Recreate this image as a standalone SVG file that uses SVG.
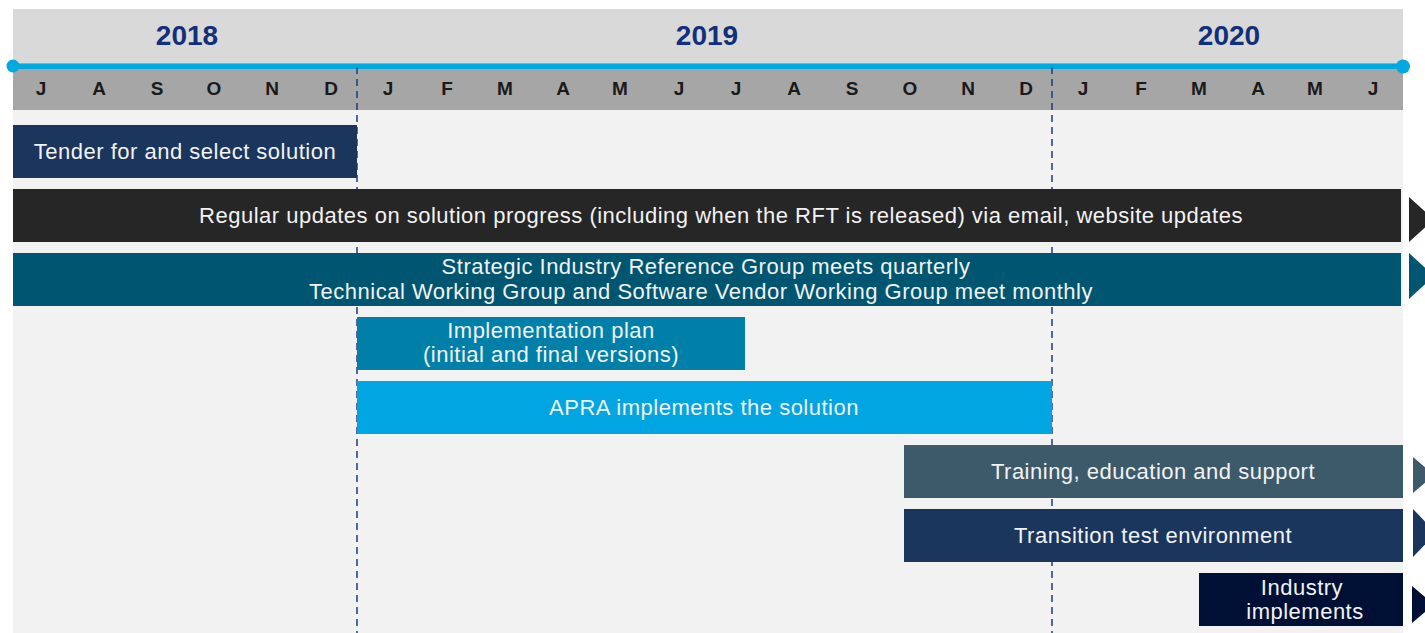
<svg xmlns="http://www.w3.org/2000/svg" width="1425" height="633" viewBox="0 0 1425 633">
  <style>
    .year { font-family: "Liberation Sans", Arial, sans-serif; font-size: 28px; font-weight: bold; fill: #12307a; text-anchor: middle; }
    .month { font-family: "Liberation Sans", Arial, sans-serif; font-size: 19px; font-weight: bold; fill: #1a1a1a; text-anchor: middle; }
    .lbl { font-family: "Liberation Sans", Arial, sans-serif; font-size: 22px; letter-spacing: 0.5px; fill: #f2f2f2; text-anchor: middle; }
    .divider { stroke: #1f3b7d; stroke-width: 1.5; stroke-dasharray: 7 5; fill: none; }
  </style>

  <!-- canvas -->
  <rect x="0" y="0" width="1425" height="633" fill="#ffffff"/>
  <rect x="13" y="110" width="1390" height="523" fill="#f2f2f2"/>

  <!-- year header -->
  <g id="year-header">
    <rect x="13" y="9" width="1390" height="55" fill="#d9d9d9"/>
    <text class="year" x="187" y="45">2018</text>
    <text class="year" x="707" y="45">2019</text>
    <text class="year" x="1229" y="45">2020</text>
  </g>

  <!-- month band -->
  <g id="month-band">
    <rect x="13" y="69" width="1390" height="41" fill="#a6a6a6"/>
    <text class="month" x="41" y="95">J</text>
    <text class="month" x="99" y="95">A</text>
    <text class="month" x="157" y="95">S</text>
    <text class="month" x="214" y="95">O</text>
    <text class="month" x="272" y="95">N</text>
    <text class="month" x="331" y="95">D</text>
    <text class="month" x="388" y="95">J</text>
    <text class="month" x="447" y="95">F</text>
    <text class="month" x="505" y="95">M</text>
    <text class="month" x="563" y="95">A</text>
    <text class="month" x="620" y="95">M</text>
    <text class="month" x="679" y="95">J</text>
    <text class="month" x="736" y="95">J</text>
    <text class="month" x="794" y="95">A</text>
    <text class="month" x="852" y="95">S</text>
    <text class="month" x="910" y="95">O</text>
    <text class="month" x="968" y="95">N</text>
    <text class="month" x="1026" y="95">D</text>
    <text class="month" x="1083" y="95">J</text>
    <text class="month" x="1141" y="95">F</text>
    <text class="month" x="1199" y="95">M</text>
    <text class="month" x="1258" y="95">A</text>
    <text class="month" x="1315" y="95">M</text>
    <text class="month" x="1373" y="95">J</text>
  </g>

  <!-- timeline axis -->
  <g id="axis">
    <line x1="13" y1="63.5" x2="1403" y2="63.5" stroke="#9aa8b0" stroke-width="1"/>
    <line x1="13" y1="66.5" x2="1403" y2="66.5" stroke="#00a9e0" stroke-width="5"/>
    <circle cx="13" cy="66" r="6.5" fill="#00a9e0"/>
    <circle cx="1403" cy="66.5" r="7" fill="#00a9e0"/>
  </g>

  <!-- year boundaries -->
  <g id="connectors">
    <line class="divider" x1="357" y1="67" x2="357" y2="633"/>
    <line class="divider" x1="1052" y1="67" x2="1052" y2="633"/>
  </g>

  <g id="tender">
    <rect x="13" y="125" width="344" height="53" fill="#1b365d"/>
    <text class="lbl" x="185" y="159">Tender for and select solution</text>
  </g>

  <g id="regular-updates">
    <rect x="13" y="189" width="1388" height="53" fill="#262626"/>
    <polygon points="1409,197 1434,219.5 1409,242" fill="#262626"/>
    <text class="lbl" x="721" y="223">Regular updates on solution progress (including when the RFT is released) via email, website updates</text>
  </g>

  <g id="working-groups">
    <rect x="13" y="253" width="1388" height="53" fill="#005670"/>
    <polygon points="1409,253 1434,276 1409,299" fill="#005670"/>
    <text class="lbl" x="706" y="274">Strategic Industry Reference Group meets quarterly</text>
    <text class="lbl" x="701" y="299">Technical Working Group and Software Vendor Working Group meet monthly</text>
  </g>

  <g id="implementation-plan">
    <rect x="357" y="317" width="388" height="53" fill="#0080a8"/>
    <text class="lbl" x="551" y="338">Implementation plan</text>
    <text class="lbl" x="551" y="362">(initial and final versions)</text>
  </g>

  <g id="apra-implements">
    <rect x="357" y="381" width="695" height="53" fill="#00a5e1"/>
    <text class="lbl" x="704" y="415">APRA implements the solution</text>
  </g>

  <g id="training">
    <rect x="904" y="445" width="499" height="53" fill="#3d5a6b"/>
    <polygon points="1413,457 1434,475 1413,493" fill="#3d5a6b"/>
    <text class="lbl" x="1153" y="479">Training, education and support</text>
  </g>

  <g id="transition-test">
    <rect x="904" y="509" width="499" height="53" fill="#1b365d"/>
    <polygon points="1413,509 1436,533 1413,557" fill="#1b365d"/>
    <text class="lbl" x="1153" y="543">Transition test environment</text>
  </g>

  <g id="industry-implements">
    <rect x="1199" y="573" width="204" height="53" fill="#001035"/>
    <polygon points="1412,586 1434,604.5 1412,623" fill="#001035"/>
    <text class="lbl" x="1302" y="595">Industry</text>
    <text class="lbl" x="1305" y="619">implements</text>
  </g>
</svg>
